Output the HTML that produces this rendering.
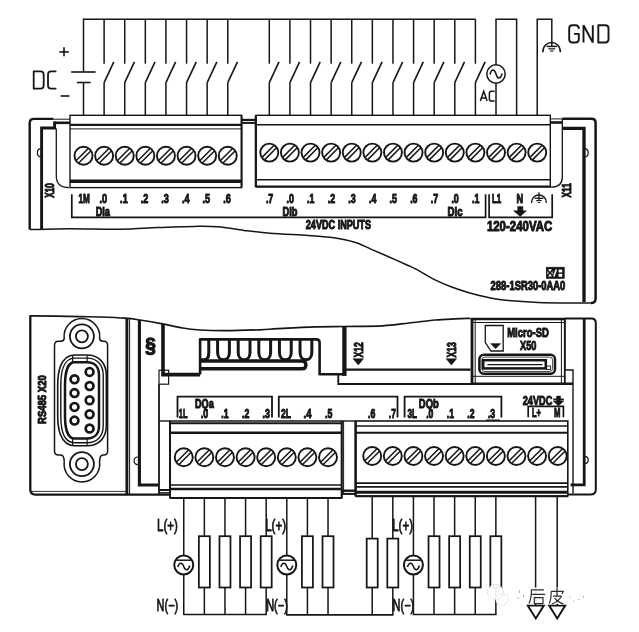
<!DOCTYPE html>
<html><head><meta charset="utf-8"><title>PLC wiring diagram</title>
<style>
html,body{margin:0;padding:0;background:#fff;}
body{width:639px;height:632px;overflow:hidden;font-family:"Liberation Sans",sans-serif;}
svg{display:block;will-change:transform;}
svg text{font-family:"Liberation Sans",sans-serif;}
</style></head><body>
<svg width="639" height="632" viewBox="0 0 639 632">
<rect x="0" y="0" width="639" height="632" fill="#ffffff"/>
<line x1="83.50" y1="19.20" x2="475.40" y2="19.20" stroke="#161616" stroke-width="1.5" stroke-linecap="butt"/>
<line x1="83.50" y1="18.55" x2="83.50" y2="72.00" stroke="#161616" stroke-width="1.5" stroke-linecap="butt"/>
<line x1="71.20" y1="72.00" x2="95.60" y2="72.00" stroke="#161616" stroke-width="1.6" stroke-linecap="butt"/>
<line x1="76.90" y1="82.50" x2="90.60" y2="82.50" stroke="#161616" stroke-width="1.6" stroke-linecap="butt"/>
<line x1="83.50" y1="82.50" x2="83.50" y2="115.30" stroke="#161616" stroke-width="1.5" stroke-linecap="butt"/>
<line x1="104.11" y1="19.20" x2="104.11" y2="63.70" stroke="#161616" stroke-width="1.5" stroke-linecap="butt"/>
<line x1="113.81" y1="61.90" x2="104.11" y2="82.60" stroke="#161616" stroke-width="1.6" stroke-linecap="butt"/>
<line x1="104.11" y1="82.40" x2="104.11" y2="115.30" stroke="#161616" stroke-width="1.5" stroke-linecap="butt"/>
<line x1="124.72" y1="19.20" x2="124.72" y2="63.70" stroke="#161616" stroke-width="1.5" stroke-linecap="butt"/>
<line x1="134.42" y1="61.90" x2="124.72" y2="82.60" stroke="#161616" stroke-width="1.6" stroke-linecap="butt"/>
<line x1="124.72" y1="82.40" x2="124.72" y2="115.30" stroke="#161616" stroke-width="1.5" stroke-linecap="butt"/>
<line x1="145.33" y1="19.20" x2="145.33" y2="63.70" stroke="#161616" stroke-width="1.5" stroke-linecap="butt"/>
<line x1="155.03" y1="61.90" x2="145.33" y2="82.60" stroke="#161616" stroke-width="1.6" stroke-linecap="butt"/>
<line x1="145.33" y1="82.40" x2="145.33" y2="115.30" stroke="#161616" stroke-width="1.5" stroke-linecap="butt"/>
<line x1="165.94" y1="19.20" x2="165.94" y2="63.70" stroke="#161616" stroke-width="1.5" stroke-linecap="butt"/>
<line x1="175.64" y1="61.90" x2="165.94" y2="82.60" stroke="#161616" stroke-width="1.6" stroke-linecap="butt"/>
<line x1="165.94" y1="82.40" x2="165.94" y2="115.30" stroke="#161616" stroke-width="1.5" stroke-linecap="butt"/>
<line x1="186.55" y1="19.20" x2="186.55" y2="63.70" stroke="#161616" stroke-width="1.5" stroke-linecap="butt"/>
<line x1="196.25" y1="61.90" x2="186.55" y2="82.60" stroke="#161616" stroke-width="1.6" stroke-linecap="butt"/>
<line x1="186.55" y1="82.40" x2="186.55" y2="115.30" stroke="#161616" stroke-width="1.5" stroke-linecap="butt"/>
<line x1="207.16" y1="19.20" x2="207.16" y2="63.70" stroke="#161616" stroke-width="1.5" stroke-linecap="butt"/>
<line x1="216.86" y1="61.90" x2="207.16" y2="82.60" stroke="#161616" stroke-width="1.6" stroke-linecap="butt"/>
<line x1="207.16" y1="82.40" x2="207.16" y2="115.30" stroke="#161616" stroke-width="1.5" stroke-linecap="butt"/>
<line x1="227.77" y1="19.20" x2="227.77" y2="63.70" stroke="#161616" stroke-width="1.5" stroke-linecap="butt"/>
<line x1="237.47" y1="61.90" x2="227.77" y2="82.60" stroke="#161616" stroke-width="1.6" stroke-linecap="butt"/>
<line x1="227.77" y1="82.40" x2="227.77" y2="115.30" stroke="#161616" stroke-width="1.5" stroke-linecap="butt"/>
<line x1="269.30" y1="19.20" x2="269.30" y2="63.70" stroke="#161616" stroke-width="1.5" stroke-linecap="butt"/>
<line x1="279.00" y1="61.90" x2="269.30" y2="82.60" stroke="#161616" stroke-width="1.6" stroke-linecap="butt"/>
<line x1="269.30" y1="82.40" x2="269.30" y2="115.30" stroke="#161616" stroke-width="1.5" stroke-linecap="butt"/>
<line x1="289.91" y1="19.20" x2="289.91" y2="63.70" stroke="#161616" stroke-width="1.5" stroke-linecap="butt"/>
<line x1="299.61" y1="61.90" x2="289.91" y2="82.60" stroke="#161616" stroke-width="1.6" stroke-linecap="butt"/>
<line x1="289.91" y1="82.40" x2="289.91" y2="115.30" stroke="#161616" stroke-width="1.5" stroke-linecap="butt"/>
<line x1="310.52" y1="19.20" x2="310.52" y2="63.70" stroke="#161616" stroke-width="1.5" stroke-linecap="butt"/>
<line x1="320.22" y1="61.90" x2="310.52" y2="82.60" stroke="#161616" stroke-width="1.6" stroke-linecap="butt"/>
<line x1="310.52" y1="82.40" x2="310.52" y2="115.30" stroke="#161616" stroke-width="1.5" stroke-linecap="butt"/>
<line x1="331.13" y1="19.20" x2="331.13" y2="63.70" stroke="#161616" stroke-width="1.5" stroke-linecap="butt"/>
<line x1="340.83" y1="61.90" x2="331.13" y2="82.60" stroke="#161616" stroke-width="1.6" stroke-linecap="butt"/>
<line x1="331.13" y1="82.40" x2="331.13" y2="115.30" stroke="#161616" stroke-width="1.5" stroke-linecap="butt"/>
<line x1="351.74" y1="19.20" x2="351.74" y2="63.70" stroke="#161616" stroke-width="1.5" stroke-linecap="butt"/>
<line x1="361.44" y1="61.90" x2="351.74" y2="82.60" stroke="#161616" stroke-width="1.6" stroke-linecap="butt"/>
<line x1="351.74" y1="82.40" x2="351.74" y2="115.30" stroke="#161616" stroke-width="1.5" stroke-linecap="butt"/>
<line x1="372.35" y1="19.20" x2="372.35" y2="63.70" stroke="#161616" stroke-width="1.5" stroke-linecap="butt"/>
<line x1="382.05" y1="61.90" x2="372.35" y2="82.60" stroke="#161616" stroke-width="1.6" stroke-linecap="butt"/>
<line x1="372.35" y1="82.40" x2="372.35" y2="115.30" stroke="#161616" stroke-width="1.5" stroke-linecap="butt"/>
<line x1="392.96" y1="19.20" x2="392.96" y2="63.70" stroke="#161616" stroke-width="1.5" stroke-linecap="butt"/>
<line x1="402.66" y1="61.90" x2="392.96" y2="82.60" stroke="#161616" stroke-width="1.6" stroke-linecap="butt"/>
<line x1="392.96" y1="82.40" x2="392.96" y2="115.30" stroke="#161616" stroke-width="1.5" stroke-linecap="butt"/>
<line x1="413.57" y1="19.20" x2="413.57" y2="63.70" stroke="#161616" stroke-width="1.5" stroke-linecap="butt"/>
<line x1="423.27" y1="61.90" x2="413.57" y2="82.60" stroke="#161616" stroke-width="1.6" stroke-linecap="butt"/>
<line x1="413.57" y1="82.40" x2="413.57" y2="115.30" stroke="#161616" stroke-width="1.5" stroke-linecap="butt"/>
<line x1="434.18" y1="19.20" x2="434.18" y2="63.70" stroke="#161616" stroke-width="1.5" stroke-linecap="butt"/>
<line x1="443.88" y1="61.90" x2="434.18" y2="82.60" stroke="#161616" stroke-width="1.6" stroke-linecap="butt"/>
<line x1="434.18" y1="82.40" x2="434.18" y2="115.30" stroke="#161616" stroke-width="1.5" stroke-linecap="butt"/>
<line x1="454.79" y1="19.20" x2="454.79" y2="63.70" stroke="#161616" stroke-width="1.5" stroke-linecap="butt"/>
<line x1="464.49" y1="61.90" x2="454.79" y2="82.60" stroke="#161616" stroke-width="1.6" stroke-linecap="butt"/>
<line x1="454.79" y1="82.40" x2="454.79" y2="115.30" stroke="#161616" stroke-width="1.5" stroke-linecap="butt"/>
<line x1="475.40" y1="19.20" x2="475.40" y2="63.70" stroke="#161616" stroke-width="1.5" stroke-linecap="butt"/>
<line x1="485.10" y1="61.90" x2="475.40" y2="82.60" stroke="#161616" stroke-width="1.6" stroke-linecap="butt"/>
<line x1="475.40" y1="82.40" x2="475.40" y2="115.30" stroke="#161616" stroke-width="1.5" stroke-linecap="butt"/>
<path d="M496.01 115.3 V19.2 H516.62 V115.3" stroke="#161616" stroke-width="1.5" fill="none" stroke-linejoin="miter" stroke-linecap="butt"/>
<circle cx="496.01" cy="74.00" r="9.20" stroke="#161616" stroke-width="1.5" fill="#fff"/>
<path d="M490.01 74.5 C491.51 68.5 494.51 68.5 496.01 74 S500.51 79.5 502.01 73.5" stroke="#161616" stroke-width="1.5" fill="none" stroke-linejoin="round" stroke-linecap="butt"/>
<path d="M537.23 115.3 V19.2 H551.8 V46.5" stroke="#161616" stroke-width="1.5" fill="none" stroke-linejoin="miter" stroke-linecap="butt"/>
<path d="M542.8 52.2 C542.8 39.4 560.4 39.4 560.4 52.2" stroke="#161616" stroke-width="1.5" fill="none" stroke-linejoin="round" stroke-linecap="butt"/>
<line x1="546.50" y1="46.40" x2="557.00" y2="46.40" stroke="#161616" stroke-width="1.5" stroke-linecap="butt"/>
<line x1="548.30" y1="48.80" x2="555.20" y2="48.80" stroke="#161616" stroke-width="1.2" stroke-linecap="butt"/>
<line x1="550.00" y1="51.00" x2="553.50" y2="51.00" stroke="#161616" stroke-width="1.1" stroke-linecap="butt"/>
<path d="M33.7 71.4 H40.5 Q43.7 71.4 43.7 74.60000000000001 V85.5 Q43.7 88.7 40.5 88.7 H33.7 Z" stroke="#161616" stroke-width="1.8" fill="none" stroke-linejoin="round" stroke-linecap="butt"/>
<path d="M56.4 71.4 H51.2 Q48 71.4 48 74.60000000000001 V85.5 Q48 88.7 51.2 88.7 H56.4" stroke="#161616" stroke-width="1.8" fill="none" stroke-linejoin="round" stroke-linecap="butt"/>
<line x1="59.40" y1="51.90" x2="68.80" y2="51.90" stroke="#161616" stroke-width="1.6" stroke-linecap="butt"/>
<line x1="64.00" y1="47.20" x2="64.00" y2="56.30" stroke="#161616" stroke-width="1.6" stroke-linecap="butt"/>
<line x1="60.60" y1="96.00" x2="69.40" y2="96.00" stroke="#161616" stroke-width="1.6" stroke-linecap="butt"/>
<path d="M578.8000000000001 28.9 Q578.8000000000001 25.2 575.6 25.2 H572.4000000000001 Q569.2 25.2 569.2 28.4 V39.3 Q569.2 42.5 572.4000000000001 42.5 H575.6 Q578.8000000000001 42.5 578.8000000000001 39.3 V33.85 H574.0" stroke="#161616" stroke-width="1.9" fill="none" stroke-linejoin="round" stroke-linecap="butt"/>
<path d="M583.5 42.5 V25.2 L592.8 42.5 V25.2" stroke="#161616" stroke-width="1.9" fill="none" stroke-linejoin="miter" stroke-linecap="butt"/>
<path d="M598.3 25.2 H605.3 Q608.5 25.2 608.5 28.4 V39.3 Q608.5 42.5 605.3 42.5 H598.3 Z" stroke="#161616" stroke-width="1.9" fill="none" stroke-linejoin="round" stroke-linecap="butt"/>
<path d="M480.3 101.10000000000001 L483.7 91.2 L487.1 101.10000000000001 M481.524 97.932 H485.87600000000003" stroke="#161616" stroke-width="1.5" fill="none" stroke-linejoin="miter" stroke-linecap="butt"/>
<path d="M494.59999999999997 91.2 H491.47999999999996 Q489.4 91.2 489.4 93.28 V99.02000000000001 Q489.4 101.10000000000001 491.47999999999996 101.10000000000001 H494.59999999999997" stroke="#161616" stroke-width="1.5" fill="none" stroke-linejoin="round" stroke-linecap="butt"/>
<path d="M53.5 118.9 H34 Q29.7 118.9 29.7 123 V229.4" stroke="#161616" stroke-width="2.4" fill="none" stroke-linejoin="round" stroke-linecap="butt"/>
<line x1="53.50" y1="119.20" x2="70.00" y2="119.20" stroke="#161616" stroke-width="1.0" stroke-linecap="butt"/>
<line x1="54.00" y1="122.80" x2="70.00" y2="122.80" stroke="#161616" stroke-width="2.6" stroke-linecap="butt"/>
<path d="M54.6 121.6 V128 H41.6 V229" stroke="#161616" stroke-width="2.9" fill="none" stroke-linejoin="miter" stroke-linecap="butt"/>
<path d="M56.3 128.6 V176 Q56.3 187.6 69 187.6" stroke="#161616" stroke-width="1.3" fill="none" stroke-linejoin="round" stroke-linecap="butt"/>
<path d="M41.4 148.7 C36 148.7 36 157 41.4 157" stroke="#161616" stroke-width="1.2" fill="none" stroke-linejoin="round" stroke-linecap="butt"/>
<path d="M562.3 118.8 H591.5 Q595.6 118.8 595.6 123 V298.5 Q595.6 303 591 303" stroke="#161616" stroke-width="2.5" fill="none" stroke-linejoin="round" stroke-linecap="butt"/>
<line x1="550.30" y1="118.90" x2="562.30" y2="118.90" stroke="#161616" stroke-width="1.0" stroke-linecap="butt"/>
<path d="M550.3 122.5 H562.3" stroke="#161616" stroke-width="2.6" fill="none" stroke-linejoin="round" stroke-linecap="butt"/>
<path d="M562.5 128.3 H584 V302" stroke="#161616" stroke-width="3.3" fill="none" stroke-linejoin="miter" stroke-linecap="butt"/>
<path d="M562.3 118.8 V177 Q562.3 187.2 551 187.2" stroke="#161616" stroke-width="1.3" fill="none" stroke-linejoin="round" stroke-linecap="butt"/>
<path d="M584.2 148.6 C589.6 148.6 589.6 157 584.2 157" stroke="#161616" stroke-width="1.2" fill="none" stroke-linejoin="round" stroke-linecap="butt"/>
<path d="M29.8 229.6 C36.33 229.45 53.97 228.77 69.00 228.70 C84.03 228.63 105.23 229.38 120.00 229.20 C134.77 229.02 145.10 228.07 157.60 227.60 C170.10 227.13 184.93 226.53 195.00 226.40 C205.07 226.27 209.83 226.13 218.00 226.80 C226.17 227.47 235.33 229.33 244.00 230.40 C252.67 231.47 259.33 232.37 270.00 233.20 C280.67 234.03 298.00 234.73 308.00 235.40 C318.00 236.07 323.83 236.47 330.00 237.20 C336.17 237.93 340.33 238.80 345.00 239.80 C349.67 240.80 353.50 241.57 358.00 243.20 C362.50 244.83 366.73 247.27 372.00 249.60 C377.27 251.93 383.77 254.63 389.60 257.20 C395.43 259.77 402.43 262.93 407.00 265.00 C411.57 267.07 412.42 267.17 417.00 269.60 C421.58 272.03 428.72 276.70 434.50 279.60 C440.28 282.50 445.95 284.82 451.70 287.00 C457.45 289.18 463.28 291.03 469.00 292.70 C474.72 294.37 480.33 295.78 486.00 297.00 C491.67 298.22 494.33 299.10 503.00 300.00 C511.67 300.90 525.33 301.90 538.00 302.40 C550.67 302.90 570.00 302.90 579.00 303.00 C588.00 303.10 589.83 303.00 592.00 303.00" stroke="#161616" stroke-width="1.5" fill="none" stroke-linejoin="round" stroke-linecap="butt"/>
<rect x="70.00" y="115.30" width="171.50" height="72.30" rx="0" stroke="#161616" stroke-width="1.4" fill="#fff"/>
<line x1="70.00" y1="124.90" x2="241.50" y2="124.90" stroke="#161616" stroke-width="2.4" stroke-linecap="butt"/>
<line x1="70.00" y1="128.90" x2="241.50" y2="128.90" stroke="#161616" stroke-width="1.0" stroke-linecap="butt"/>
<line x1="70.00" y1="181.20" x2="241.50" y2="181.20" stroke="#161616" stroke-width="3.4" stroke-linecap="butt"/>
<line x1="241.50" y1="119.90" x2="256.00" y2="119.90" stroke="#161616" stroke-width="2.2" stroke-linecap="butt"/>
<line x1="241.50" y1="122.90" x2="256.00" y2="122.90" stroke="#161616" stroke-width="2.0" stroke-linecap="butt"/>
<rect x="256.00" y="115.30" width="294.30" height="71.60" rx="0" stroke="#161616" stroke-width="1.4" fill="#fff"/>
<line x1="256.00" y1="124.80" x2="550.30" y2="124.80" stroke="#161616" stroke-width="1.6" stroke-linecap="butt"/>
<line x1="255.80" y1="115.30" x2="255.80" y2="187.00" stroke="#161616" stroke-width="2.2" stroke-linecap="butt"/>
<line x1="241.60" y1="115.30" x2="241.60" y2="187.60" stroke="#161616" stroke-width="1.9" stroke-linecap="butt"/>
<line x1="256.00" y1="179.80" x2="550.30" y2="179.80" stroke="#161616" stroke-width="1.6" stroke-linecap="butt"/>
<line x1="256.00" y1="186.60" x2="550.30" y2="186.60" stroke="#161616" stroke-width="2.0" stroke-linecap="butt"/>
<circle cx="83.50" cy="155.80" r="9.00" stroke="#161616" stroke-width="1.9" fill="#fff"/>
<line x1="76.23" y1="160.59" x2="88.29" y2="148.53" stroke="#161616" stroke-width="1.5" stroke-linecap="butt"/>
<line x1="78.71" y1="163.07" x2="90.77" y2="151.01" stroke="#161616" stroke-width="1.5" stroke-linecap="butt"/>
<circle cx="104.11" cy="155.80" r="9.00" stroke="#161616" stroke-width="1.9" fill="#fff"/>
<line x1="96.84" y1="160.59" x2="108.90" y2="148.53" stroke="#161616" stroke-width="1.5" stroke-linecap="butt"/>
<line x1="99.32" y1="163.07" x2="111.38" y2="151.01" stroke="#161616" stroke-width="1.5" stroke-linecap="butt"/>
<circle cx="124.72" cy="155.80" r="9.00" stroke="#161616" stroke-width="1.9" fill="#fff"/>
<line x1="117.45" y1="160.59" x2="129.51" y2="148.53" stroke="#161616" stroke-width="1.5" stroke-linecap="butt"/>
<line x1="119.93" y1="163.07" x2="131.99" y2="151.01" stroke="#161616" stroke-width="1.5" stroke-linecap="butt"/>
<circle cx="145.33" cy="155.80" r="9.00" stroke="#161616" stroke-width="1.9" fill="#fff"/>
<line x1="138.06" y1="160.59" x2="150.12" y2="148.53" stroke="#161616" stroke-width="1.5" stroke-linecap="butt"/>
<line x1="140.54" y1="163.07" x2="152.60" y2="151.01" stroke="#161616" stroke-width="1.5" stroke-linecap="butt"/>
<circle cx="165.94" cy="155.80" r="9.00" stroke="#161616" stroke-width="1.9" fill="#fff"/>
<line x1="158.67" y1="160.59" x2="170.73" y2="148.53" stroke="#161616" stroke-width="1.5" stroke-linecap="butt"/>
<line x1="161.15" y1="163.07" x2="173.21" y2="151.01" stroke="#161616" stroke-width="1.5" stroke-linecap="butt"/>
<circle cx="186.55" cy="155.80" r="9.00" stroke="#161616" stroke-width="1.9" fill="#fff"/>
<line x1="179.28" y1="160.59" x2="191.34" y2="148.53" stroke="#161616" stroke-width="1.5" stroke-linecap="butt"/>
<line x1="181.76" y1="163.07" x2="193.82" y2="151.01" stroke="#161616" stroke-width="1.5" stroke-linecap="butt"/>
<circle cx="207.16" cy="155.80" r="9.00" stroke="#161616" stroke-width="1.9" fill="#fff"/>
<line x1="199.89" y1="160.59" x2="211.95" y2="148.53" stroke="#161616" stroke-width="1.5" stroke-linecap="butt"/>
<line x1="202.37" y1="163.07" x2="214.43" y2="151.01" stroke="#161616" stroke-width="1.5" stroke-linecap="butt"/>
<circle cx="227.77" cy="155.80" r="9.00" stroke="#161616" stroke-width="1.9" fill="#fff"/>
<line x1="220.50" y1="160.59" x2="232.56" y2="148.53" stroke="#161616" stroke-width="1.5" stroke-linecap="butt"/>
<line x1="222.98" y1="163.07" x2="235.04" y2="151.01" stroke="#161616" stroke-width="1.5" stroke-linecap="butt"/>
<circle cx="269.30" cy="152.60" r="9.00" stroke="#161616" stroke-width="1.9" fill="#fff"/>
<line x1="262.03" y1="157.39" x2="274.09" y2="145.33" stroke="#161616" stroke-width="1.5" stroke-linecap="butt"/>
<line x1="264.51" y1="159.87" x2="276.57" y2="147.81" stroke="#161616" stroke-width="1.5" stroke-linecap="butt"/>
<circle cx="289.91" cy="152.60" r="9.00" stroke="#161616" stroke-width="1.9" fill="#fff"/>
<line x1="282.64" y1="157.39" x2="294.70" y2="145.33" stroke="#161616" stroke-width="1.5" stroke-linecap="butt"/>
<line x1="285.12" y1="159.87" x2="297.18" y2="147.81" stroke="#161616" stroke-width="1.5" stroke-linecap="butt"/>
<circle cx="310.52" cy="152.60" r="9.00" stroke="#161616" stroke-width="1.9" fill="#fff"/>
<line x1="303.25" y1="157.39" x2="315.31" y2="145.33" stroke="#161616" stroke-width="1.5" stroke-linecap="butt"/>
<line x1="305.73" y1="159.87" x2="317.79" y2="147.81" stroke="#161616" stroke-width="1.5" stroke-linecap="butt"/>
<circle cx="331.13" cy="152.60" r="9.00" stroke="#161616" stroke-width="1.9" fill="#fff"/>
<line x1="323.86" y1="157.39" x2="335.92" y2="145.33" stroke="#161616" stroke-width="1.5" stroke-linecap="butt"/>
<line x1="326.34" y1="159.87" x2="338.40" y2="147.81" stroke="#161616" stroke-width="1.5" stroke-linecap="butt"/>
<circle cx="351.74" cy="152.60" r="9.00" stroke="#161616" stroke-width="1.9" fill="#fff"/>
<line x1="344.47" y1="157.39" x2="356.53" y2="145.33" stroke="#161616" stroke-width="1.5" stroke-linecap="butt"/>
<line x1="346.95" y1="159.87" x2="359.01" y2="147.81" stroke="#161616" stroke-width="1.5" stroke-linecap="butt"/>
<circle cx="372.35" cy="152.60" r="9.00" stroke="#161616" stroke-width="1.9" fill="#fff"/>
<line x1="365.08" y1="157.39" x2="377.14" y2="145.33" stroke="#161616" stroke-width="1.5" stroke-linecap="butt"/>
<line x1="367.56" y1="159.87" x2="379.62" y2="147.81" stroke="#161616" stroke-width="1.5" stroke-linecap="butt"/>
<circle cx="392.96" cy="152.60" r="9.00" stroke="#161616" stroke-width="1.9" fill="#fff"/>
<line x1="385.69" y1="157.39" x2="397.75" y2="145.33" stroke="#161616" stroke-width="1.5" stroke-linecap="butt"/>
<line x1="388.17" y1="159.87" x2="400.23" y2="147.81" stroke="#161616" stroke-width="1.5" stroke-linecap="butt"/>
<circle cx="413.57" cy="152.60" r="9.00" stroke="#161616" stroke-width="1.9" fill="#fff"/>
<line x1="406.30" y1="157.39" x2="418.36" y2="145.33" stroke="#161616" stroke-width="1.5" stroke-linecap="butt"/>
<line x1="408.78" y1="159.87" x2="420.84" y2="147.81" stroke="#161616" stroke-width="1.5" stroke-linecap="butt"/>
<circle cx="434.18" cy="152.60" r="9.00" stroke="#161616" stroke-width="1.9" fill="#fff"/>
<line x1="426.91" y1="157.39" x2="438.97" y2="145.33" stroke="#161616" stroke-width="1.5" stroke-linecap="butt"/>
<line x1="429.39" y1="159.87" x2="441.45" y2="147.81" stroke="#161616" stroke-width="1.5" stroke-linecap="butt"/>
<circle cx="454.79" cy="152.60" r="9.00" stroke="#161616" stroke-width="1.9" fill="#fff"/>
<line x1="447.52" y1="157.39" x2="459.58" y2="145.33" stroke="#161616" stroke-width="1.5" stroke-linecap="butt"/>
<line x1="450.00" y1="159.87" x2="462.06" y2="147.81" stroke="#161616" stroke-width="1.5" stroke-linecap="butt"/>
<circle cx="475.40" cy="152.60" r="9.00" stroke="#161616" stroke-width="1.9" fill="#fff"/>
<line x1="468.13" y1="157.39" x2="480.19" y2="145.33" stroke="#161616" stroke-width="1.5" stroke-linecap="butt"/>
<line x1="470.61" y1="159.87" x2="482.67" y2="147.81" stroke="#161616" stroke-width="1.5" stroke-linecap="butt"/>
<circle cx="496.01" cy="152.60" r="9.00" stroke="#161616" stroke-width="1.9" fill="#fff"/>
<line x1="488.74" y1="157.39" x2="500.80" y2="145.33" stroke="#161616" stroke-width="1.5" stroke-linecap="butt"/>
<line x1="491.22" y1="159.87" x2="503.28" y2="147.81" stroke="#161616" stroke-width="1.5" stroke-linecap="butt"/>
<circle cx="516.62" cy="152.60" r="9.00" stroke="#161616" stroke-width="1.9" fill="#fff"/>
<line x1="509.35" y1="157.39" x2="521.41" y2="145.33" stroke="#161616" stroke-width="1.5" stroke-linecap="butt"/>
<line x1="511.83" y1="159.87" x2="523.89" y2="147.81" stroke="#161616" stroke-width="1.5" stroke-linecap="butt"/>
<circle cx="537.23" cy="152.60" r="9.00" stroke="#161616" stroke-width="1.9" fill="#fff"/>
<line x1="529.96" y1="157.39" x2="542.02" y2="145.33" stroke="#161616" stroke-width="1.5" stroke-linecap="butt"/>
<line x1="532.44" y1="159.87" x2="544.50" y2="147.81" stroke="#161616" stroke-width="1.5" stroke-linecap="butt"/>
<text x="78.50" y="203.30" font-size="12.4" font-weight="700" text-anchor="start" fill="#161616" stroke="#161616" stroke-width="1.0" stroke-linejoin="round" textLength="11.30" lengthAdjust="spacingAndGlyphs">1M</text>
<text x="99.51" y="203.30" font-size="12.4" font-weight="700" text-anchor="start" fill="#161616" stroke="#161616" stroke-width="1.0" stroke-linejoin="round" textLength="7.60" lengthAdjust="spacingAndGlyphs">.0</text>
<text x="120.12" y="203.30" font-size="12.4" font-weight="700" text-anchor="start" fill="#161616" stroke="#161616" stroke-width="1.0" stroke-linejoin="round" textLength="7.60" lengthAdjust="spacingAndGlyphs">.1</text>
<text x="140.73" y="203.30" font-size="12.4" font-weight="700" text-anchor="start" fill="#161616" stroke="#161616" stroke-width="1.0" stroke-linejoin="round" textLength="7.60" lengthAdjust="spacingAndGlyphs">.2</text>
<text x="161.34" y="203.30" font-size="12.4" font-weight="700" text-anchor="start" fill="#161616" stroke="#161616" stroke-width="1.0" stroke-linejoin="round" textLength="7.60" lengthAdjust="spacingAndGlyphs">.3</text>
<text x="181.95" y="203.30" font-size="12.4" font-weight="700" text-anchor="start" fill="#161616" stroke="#161616" stroke-width="1.0" stroke-linejoin="round" textLength="7.60" lengthAdjust="spacingAndGlyphs">.4</text>
<text x="202.56" y="203.30" font-size="12.4" font-weight="700" text-anchor="start" fill="#161616" stroke="#161616" stroke-width="1.0" stroke-linejoin="round" textLength="7.60" lengthAdjust="spacingAndGlyphs">.5</text>
<text x="223.17" y="203.30" font-size="12.4" font-weight="700" text-anchor="start" fill="#161616" stroke="#161616" stroke-width="1.0" stroke-linejoin="round" textLength="7.60" lengthAdjust="spacingAndGlyphs">.6</text>
<text x="265.90" y="203.30" font-size="12.4" font-weight="700" text-anchor="start" fill="#161616" stroke="#161616" stroke-width="1.0" stroke-linejoin="round" textLength="7.40" lengthAdjust="spacingAndGlyphs">.7</text>
<text x="286.51" y="203.30" font-size="12.4" font-weight="700" text-anchor="start" fill="#161616" stroke="#161616" stroke-width="1.0" stroke-linejoin="round" textLength="7.40" lengthAdjust="spacingAndGlyphs">.0</text>
<text x="307.12" y="203.30" font-size="12.4" font-weight="700" text-anchor="start" fill="#161616" stroke="#161616" stroke-width="1.0" stroke-linejoin="round" textLength="7.40" lengthAdjust="spacingAndGlyphs">.1</text>
<text x="327.73" y="203.30" font-size="12.4" font-weight="700" text-anchor="start" fill="#161616" stroke="#161616" stroke-width="1.0" stroke-linejoin="round" textLength="7.40" lengthAdjust="spacingAndGlyphs">.2</text>
<text x="348.34" y="203.30" font-size="12.4" font-weight="700" text-anchor="start" fill="#161616" stroke="#161616" stroke-width="1.0" stroke-linejoin="round" textLength="7.40" lengthAdjust="spacingAndGlyphs">.3</text>
<text x="368.95" y="203.30" font-size="12.4" font-weight="700" text-anchor="start" fill="#161616" stroke="#161616" stroke-width="1.0" stroke-linejoin="round" textLength="7.40" lengthAdjust="spacingAndGlyphs">.4</text>
<text x="389.56" y="203.30" font-size="12.4" font-weight="700" text-anchor="start" fill="#161616" stroke="#161616" stroke-width="1.0" stroke-linejoin="round" textLength="7.40" lengthAdjust="spacingAndGlyphs">.5</text>
<text x="410.17" y="203.30" font-size="12.4" font-weight="700" text-anchor="start" fill="#161616" stroke="#161616" stroke-width="1.0" stroke-linejoin="round" textLength="7.40" lengthAdjust="spacingAndGlyphs">.6</text>
<text x="430.78" y="203.30" font-size="12.4" font-weight="700" text-anchor="start" fill="#161616" stroke="#161616" stroke-width="1.0" stroke-linejoin="round" textLength="7.40" lengthAdjust="spacingAndGlyphs">.7</text>
<text x="451.39" y="203.30" font-size="12.4" font-weight="700" text-anchor="start" fill="#161616" stroke="#161616" stroke-width="1.0" stroke-linejoin="round" textLength="7.40" lengthAdjust="spacingAndGlyphs">.0</text>
<text x="472.00" y="203.30" font-size="12.4" font-weight="700" text-anchor="start" fill="#161616" stroke="#161616" stroke-width="1.0" stroke-linejoin="round" textLength="7.40" lengthAdjust="spacingAndGlyphs">.1</text>
<text x="492.00" y="203.30" font-size="12.4" font-weight="700" text-anchor="start" fill="#161616" stroke="#161616" stroke-width="1.0" stroke-linejoin="round" textLength="9.30" lengthAdjust="spacingAndGlyphs">L1</text>
<text x="516.60" y="203.30" font-size="12.4" font-weight="700" text-anchor="start" fill="#161616" stroke="#161616" stroke-width="1.0" stroke-linejoin="round" textLength="6.60" lengthAdjust="spacingAndGlyphs">N</text>
<path d="M531.5 203 C531.5 192.4 546.4 192.4 546.4 203" stroke="#161616" stroke-width="1.4" fill="none" stroke-linejoin="round" stroke-linecap="butt"/>
<line x1="539.00" y1="192.30" x2="539.00" y2="200.80" stroke="#161616" stroke-width="1.3" stroke-linecap="butt"/>
<line x1="534.50" y1="198.30" x2="543.50" y2="198.30" stroke="#161616" stroke-width="1.3" stroke-linecap="butt"/>
<line x1="536.20" y1="200.60" x2="541.80" y2="200.60" stroke="#161616" stroke-width="1.1" stroke-linecap="butt"/>
<line x1="537.80" y1="202.60" x2="540.20" y2="202.60" stroke="#161616" stroke-width="1.0" stroke-linecap="butt"/>
<path d="M517.7 206.5 H522.9 V210.8 H526.4 L520.2 216.6 L513.6 210.8 H517.7 Z" stroke="#161616" stroke-width="0.5" fill="#161616" stroke-linejoin="round" stroke-linecap="butt"/>
<text x="95.70" y="216.20" font-size="12.4" font-weight="700" text-anchor="start" fill="#161616" stroke="#161616" stroke-width="1.0" stroke-linejoin="round" textLength="14.30" lengthAdjust="spacingAndGlyphs">DIa</text>
<text x="282.50" y="216.20" font-size="12.4" font-weight="700" text-anchor="start" fill="#161616" stroke="#161616" stroke-width="1.0" stroke-linejoin="round" textLength="15.00" lengthAdjust="spacingAndGlyphs">DIb</text>
<text x="447.50" y="216.20" font-size="12.4" font-weight="700" text-anchor="start" fill="#161616" stroke="#161616" stroke-width="1.0" stroke-linejoin="round" textLength="15.00" lengthAdjust="spacingAndGlyphs">DIc</text>
<path d="M71.8 194.3 V217.3 H485.6 V194.3" stroke="#161616" stroke-width="1.7" fill="none" stroke-linejoin="miter" stroke-linecap="butt"/>
<path d="M489.1 194.3 V217.3 H552.2 V194.3" stroke="#161616" stroke-width="1.7" fill="none" stroke-linejoin="miter" stroke-linecap="butt"/>
<text x="305.80" y="229.10" font-size="12.1" font-weight="700" text-anchor="start" fill="#161616" stroke="#161616" stroke-width="1.0" stroke-linejoin="round" textLength="65.20" lengthAdjust="spacingAndGlyphs">24VDC INPUTS</text>
<text x="486.90" y="231.20" font-size="14.6" font-weight="700" text-anchor="start" fill="#161616" stroke="#161616" stroke-width="1.0" stroke-linejoin="round" textLength="65.30" lengthAdjust="spacingAndGlyphs">120-240VAC</text>
<text x="490.60" y="289.70" font-size="12.1" font-weight="700" text-anchor="start" fill="#161616" stroke="#161616" stroke-width="1.0" stroke-linejoin="round" textLength="74.70" lengthAdjust="spacingAndGlyphs">288-1SR30-0AA0</text>
<rect x="546.40" y="267.30" width="17.80" height="11.00" rx="0" stroke="#161616" stroke-width="0.8" fill="#161616"/>
<path d="M548.1 269.2 H551.9 L550 272 Z M548.1 276.6 H551.9 L550 273.8 Z" fill="#fff"/>
<path d="M547.3 271 V274.8 L549.2 272.9 Z M552.8 271 V274.8 L550.9 272.9 Z" fill="#bbb"/>
<path d="M553.8 276.4 L556.3 269.4" stroke="#fff" stroke-width="1.6" fill="none" stroke-linejoin="round" stroke-linecap="butt"/>
<rect x="558.6" y="269.6" width="3.6" height="2.8" fill="#fff"/><rect x="558.6" y="273.8" width="3.6" height="3" fill="#fff"/>
<text x="54.00" y="197.80" font-size="12" font-weight="700" text-anchor="start" fill="#161616" stroke="#161616" stroke-width="1.0" stroke-linejoin="round" textLength="14.80" lengthAdjust="spacingAndGlyphs" transform="rotate(-90 54.00 197.80)">X10</text>
<text x="571.20" y="197.40" font-size="12" font-weight="700" text-anchor="start" fill="#161616" stroke="#161616" stroke-width="1.0" stroke-linejoin="round" textLength="14.20" lengthAdjust="spacingAndGlyphs" transform="rotate(-90 571.20 197.40)">X11</text>
<path d="M30.3 315.8 C38.58 315.93 68.38 316.40 80.00 316.60 C91.62 316.80 92.50 316.73 100.00 317.00 C107.50 317.27 118.33 317.70 125.00 318.20 C131.67 318.70 133.75 319.07 140.00 320.00 C146.25 320.93 155.42 322.47 162.50 323.80 C169.58 325.13 176.25 326.97 182.50 328.00 C188.75 329.03 192.92 329.55 200.00 330.00 C207.08 330.45 215.00 330.73 225.00 330.70 C235.00 330.67 251.23 330.13 260.00 329.80 C268.77 329.47 268.43 329.18 277.60 328.70 C286.77 328.22 303.77 327.27 315.00 326.90 C326.23 326.53 333.72 326.68 345.00 326.50 C356.28 326.32 372.03 326.38 382.70 325.80 C393.37 325.22 400.28 323.97 409.00 323.00 C417.72 322.03 427.33 320.68 435.00 320.00 C442.67 319.32 449.17 319.17 455.00 318.90 C460.83 318.63 467.50 318.48 470.00 318.40" stroke="#161616" stroke-width="1.7" fill="none" stroke-linejoin="round" stroke-linecap="butt"/>
<path d="M30.3 315.2 V489.5 Q30.3 494.6 35.5 494.6 H170" stroke="#161616" stroke-width="2.3" fill="none" stroke-linejoin="round" stroke-linecap="butt"/>
<line x1="31.00" y1="491.40" x2="126.00" y2="491.40" stroke="#161616" stroke-width="0.9" stroke-linecap="butt"/>
<path d="M565 318.5 H591.5 Q595.8 318.5 595.8 323 V489.5 Q595.8 494.5 590.5 494.5 H567.8" stroke="#161616" stroke-width="2.0" fill="none" stroke-linejoin="round" stroke-linecap="butt"/>
<path d="M584.2 319 V484.8 H570.6" stroke="#161616" stroke-width="2.8" fill="none" stroke-linejoin="miter" stroke-linecap="butt"/>
<path d="M584.2 456.4 C589.6 456.4 589.6 463.6 584.2 463.6" stroke="#161616" stroke-width="1.2" fill="none" stroke-linejoin="round" stroke-linecap="butt"/>
<path d="M565 318.5 V370 H573 V493.5" stroke="#161616" stroke-width="1.4" fill="none" stroke-linejoin="miter" stroke-linecap="butt"/>
<line x1="126.90" y1="318.60" x2="126.90" y2="494.00" stroke="#161616" stroke-width="2.9" stroke-linecap="butt"/>
<line x1="129.60" y1="319.00" x2="129.60" y2="494.00" stroke="#161616" stroke-width="1.0" stroke-linecap="butt"/>
<path d="M139.4 320 V485 H158.8" stroke="#161616" stroke-width="3.1" fill="none" stroke-linejoin="miter" stroke-linecap="butt"/>
<path d="M138 457 C132.8 457 132.8 464.6 138 464.6" stroke="#161616" stroke-width="1.2" fill="none" stroke-linejoin="round" stroke-linecap="butt"/>
<text x="145.2" y="352.2" font-size="19.5" font-weight="700" fill="#161616" stroke="#161616" stroke-width="1.3" textLength="10.6" lengthAdjust="spacingAndGlyphs">§</text>
<path d="M200.1 374.6 V339.4 H316.4 Q319.6 339.4 319.6 342.6 V374.3 H344.2" stroke="#161616" stroke-width="2.6" fill="none" stroke-linejoin="round" stroke-linecap="butt"/>
<rect x="159.00" y="370.20" width="9.60" height="14.00" rx="0" stroke="#161616" stroke-width="1.2" fill="#fff"/>
<line x1="159.00" y1="384.00" x2="159.00" y2="494.00" stroke="#161616" stroke-width="1.8" stroke-linecap="butt"/>
<path d="M163 323.8 V374.6 H200.1" stroke="#161616" stroke-width="3.6" fill="none" stroke-linejoin="miter" stroke-linecap="butt"/>
<path d="M208.79 339.2 V353 Q208.79 359.6 203.89 359.8 H201" stroke="#161616" stroke-width="3.0" fill="none" stroke-linejoin="round" stroke-linecap="butt"/>
<path d="M217.60 339.2 V352.5 C217.60 362.3 229.40 362.3 229.40 352.5 V339.2" stroke="#161616" stroke-width="3.0" fill="none" stroke-linejoin="round" stroke-linecap="butt"/>
<path d="M238.21 339.2 V352.5 C238.21 362.3 250.01 362.3 250.01 352.5 V339.2" stroke="#161616" stroke-width="3.0" fill="none" stroke-linejoin="round" stroke-linecap="butt"/>
<path d="M258.82 339.2 V352.5 C258.82 362.3 270.62 362.3 270.62 352.5 V339.2" stroke="#161616" stroke-width="3.0" fill="none" stroke-linejoin="round" stroke-linecap="butt"/>
<path d="M279.43 339.2 V352.5 C279.43 362.3 291.23 362.3 291.23 352.5 V339.2" stroke="#161616" stroke-width="3.0" fill="none" stroke-linejoin="round" stroke-linecap="butt"/>
<path d="M300.04 339.2 V352.5 C300.04 362.3 311.84 362.3 311.84 352.5 V339.2" stroke="#161616" stroke-width="3.0" fill="none" stroke-linejoin="round" stroke-linecap="butt"/>
<path d="M200.1 361 H302 Q305.9 361 305.9 364.9 Q305.9 368.8 302 368.8 H200.1" stroke="#161616" stroke-width="3.4" fill="none" stroke-linejoin="round" stroke-linecap="butt"/>
<line x1="344.40" y1="326.40" x2="344.40" y2="375.90" stroke="#161616" stroke-width="4.3" stroke-linecap="butt"/>
<line x1="344.20" y1="369.60" x2="470.50" y2="369.60" stroke="#161616" stroke-width="2.2" stroke-linecap="butt"/>
<path d="M338.3 374.6 V384 H573" stroke="#161616" stroke-width="1.8" fill="none" stroke-linejoin="miter" stroke-linecap="butt"/>
<text x="362.90" y="357.60" font-size="13.0" font-weight="700" text-anchor="start" fill="#161616" stroke="#161616" stroke-width="1.0" stroke-linejoin="round" textLength="15.60" lengthAdjust="spacingAndGlyphs" transform="rotate(-90 362.90 357.60)">X12</text>
<path d="M353.00 358.7 H363.50 L358.30 365 Z" stroke="#161616" stroke-width="0.5" fill="#161616" stroke-linejoin="round" stroke-linecap="butt"/>
<text x="456.00" y="357.60" font-size="13.0" font-weight="700" text-anchor="start" fill="#161616" stroke="#161616" stroke-width="1.0" stroke-linejoin="round" textLength="15.60" lengthAdjust="spacingAndGlyphs" transform="rotate(-90 456.00 357.60)">X13</text>
<path d="M446.10 358.7 H456.60 L451.40 365 Z" stroke="#161616" stroke-width="0.5" fill="#161616" stroke-linejoin="round" stroke-linecap="butt"/>
<rect x="472.00" y="318.30" width="92.80" height="64.90" rx="0" stroke="#fff" stroke-width="1.0" fill="#fff"/>
<line x1="470.60" y1="319.00" x2="565.60" y2="319.00" stroke="#161616" stroke-width="2.4" stroke-linecap="butt"/>
<line x1="472.00" y1="318.00" x2="472.00" y2="384.00" stroke="#161616" stroke-width="2.8" stroke-linecap="butt"/>
<line x1="475.20" y1="318.00" x2="475.20" y2="384.00" stroke="#161616" stroke-width="1.0" stroke-linecap="butt"/>
<line x1="561.40" y1="318.00" x2="561.40" y2="384.00" stroke="#161616" stroke-width="1.0" stroke-linecap="butt"/>
<line x1="564.80" y1="318.00" x2="564.80" y2="384.00" stroke="#161616" stroke-width="1.8" stroke-linecap="butt"/>
<line x1="472.00" y1="322.50" x2="565.00" y2="322.50" stroke="#161616" stroke-width="1.0" stroke-linecap="butt"/>
<line x1="472.00" y1="376.30" x2="565.00" y2="376.30" stroke="#161616" stroke-width="1.0" stroke-linecap="butt"/>
<line x1="472.00" y1="383.40" x2="573.00" y2="383.40" stroke="#161616" stroke-width="2.0" stroke-linecap="butt"/>
<path d="M485.3 325.5 H503.2 V351 H491 L485.3 342.5 Z" stroke="#161616" stroke-width="1.3" fill="none" stroke-linejoin="miter" stroke-linecap="butt"/>
<path d="M490.5 343.6 H500.8 L495.6 348.8 Z" stroke="#161616" stroke-width="0.4" fill="#161616" stroke-linejoin="round" stroke-linecap="butt"/>
<text x="507.20" y="336.80" font-size="13.3" font-weight="700" text-anchor="start" fill="#161616" stroke="#161616" stroke-width="1.0" stroke-linejoin="round" textLength="41.80" lengthAdjust="spacingAndGlyphs">Micro-SD</text>
<text x="520.00" y="349.60" font-size="13.3" font-weight="700" text-anchor="start" fill="#161616" stroke="#161616" stroke-width="1.0" stroke-linejoin="round" textLength="16.40" lengthAdjust="spacingAndGlyphs">X50</text>
<rect x="479.40" y="354.80" width="75.60" height="19.00" rx="4.5" stroke="#161616" stroke-width="2.5" fill="none"/>
<rect x="481.80" y="357.10" width="70.80" height="14.40" rx="3" stroke="#161616" stroke-width="0.8" fill="none"/>
<rect x="483.20" y="360.20" width="62.60" height="8.20" rx="0" stroke="#161616" stroke-width="2.5" fill="none"/>
<line x1="487.40" y1="364.60" x2="542.50" y2="364.60" stroke="#161616" stroke-width="1.4" stroke-linecap="butt"/>
<rect x="546.60" y="366.00" width="4.00" height="3.40" rx="0" stroke="#161616" stroke-width="0.9" fill="none"/>
<path d="M58.5 341.2 Q54.5 341.2 54.5 345.2 V451 Q54.5 455 58.5 455 H60.90 Q64.21 455 64.21 462.10 A17.8 17.8 0 1 0 99.59 462.10 Q99.59 455 102.90 455 H103.6 Q107.6 455 107.6 451 V345.2 Q107.6 341.2 103.6 341.2 H102.90 Q99.59 341.2 99.59 338.30 A17.8 17.8 0 1 0 64.21 338.30 Q64.21 341.2 60.90 341.2 Z" stroke="#161616" stroke-width="1.5" fill="#fff" stroke-linejoin="round" stroke-linecap="butt"/>
<circle cx="81.90" cy="336.30" r="12.00" stroke="#161616" stroke-width="1.8" fill="none"/>
<circle cx="81.90" cy="336.30" r="6.00" stroke="#161616" stroke-width="1.8" fill="none"/>
<circle cx="81.90" cy="464.10" r="12.00" stroke="#161616" stroke-width="1.8" fill="none"/>
<circle cx="81.90" cy="464.10" r="6.00" stroke="#161616" stroke-width="1.8" fill="none"/>
<path d="M65 385 C65 372 68 362.3 74.5 362.3 H87 C94.5 362.3 99 367 99 375 V426 C99 434 94.5 438.5 87 438.5 H74.5 C68 438.5 65 429 65 416 Z" stroke="#161616" stroke-width="16.2" fill="none" stroke-linejoin="round" stroke-linecap="butt"/>
<path d="M65 385 C65 372 68 362.3 74.5 362.3 H87 C94.5 362.3 99 367 99 375 V426 C99 434 94.5 438.5 87 438.5 H74.5 C68 438.5 65 429 65 416 Z" stroke="#fff" stroke-width="13.0" fill="none" stroke-linejoin="round" stroke-linecap="butt"/>
<path d="M65 385 C65 372 68 362.3 74.5 362.3 H87 C94.5 362.3 99 367 99 375 V426 C99 434 94.5 438.5 87 438.5 H74.5 C68 438.5 65 429 65 416 Z" stroke="#161616" stroke-width="9.8" fill="none" stroke-linejoin="round" stroke-linecap="butt"/>
<path d="M65 385 C65 372 68 362.3 74.5 362.3 H87 C94.5 362.3 99 367 99 375 V426 C99 434 94.5 438.5 87 438.5 H74.5 C68 438.5 65 429 65 416 Z" stroke="#fff" stroke-width="7.0" fill="none" stroke-linejoin="round" stroke-linecap="butt"/>
<path d="M65 385 C65 372 68 362.3 74.5 362.3 H87 C94.5 362.3 99 367 99 375 V426 C99 434 94.5 438.5 87 438.5 H74.5 C68 438.5 65 429 65 416 Z" stroke="#161616" stroke-width="2.5" fill="#fff" stroke-linejoin="round" stroke-linecap="butt"/>
<line x1="72.60" y1="355.30" x2="72.60" y2="362.30" stroke="#161616" stroke-width="1.2" stroke-linecap="butt"/>
<line x1="87.10" y1="355.30" x2="87.10" y2="362.30" stroke="#161616" stroke-width="1.2" stroke-linecap="butt"/>
<line x1="72.60" y1="438.50" x2="72.60" y2="445.90" stroke="#161616" stroke-width="1.2" stroke-linecap="butt"/>
<line x1="87.10" y1="438.50" x2="87.10" y2="445.90" stroke="#161616" stroke-width="1.2" stroke-linecap="butt"/>
<circle cx="74.50" cy="379.30" r="3.90" stroke="#161616" stroke-width="2.7" fill="none"/>
<circle cx="74.50" cy="393.10" r="3.90" stroke="#161616" stroke-width="2.7" fill="none"/>
<circle cx="74.50" cy="406.90" r="3.90" stroke="#161616" stroke-width="2.7" fill="none"/>
<circle cx="74.50" cy="420.60" r="3.90" stroke="#161616" stroke-width="2.7" fill="none"/>
<circle cx="89.60" cy="371.90" r="3.90" stroke="#161616" stroke-width="2.7" fill="none"/>
<circle cx="89.60" cy="386.00" r="3.90" stroke="#161616" stroke-width="2.7" fill="none"/>
<circle cx="89.60" cy="400.20" r="3.90" stroke="#161616" stroke-width="2.7" fill="none"/>
<circle cx="89.60" cy="414.30" r="3.90" stroke="#161616" stroke-width="2.7" fill="none"/>
<circle cx="89.60" cy="428.50" r="3.90" stroke="#161616" stroke-width="2.7" fill="none"/>
<text x="45.90" y="424.00" font-size="11.5" font-weight="700" text-anchor="start" fill="#161616" stroke="#161616" stroke-width="1.0" stroke-linejoin="round" textLength="48.80" lengthAdjust="spacingAndGlyphs" transform="rotate(-90 45.90 424.00)">RS485 X20</text>
<path d="M177.5 417.5 V396.6 H272 V417.5" stroke="#161616" stroke-width="1.8" fill="none" stroke-linejoin="miter" stroke-linecap="butt"/>
<path d="M278.8 417.5 V396.6 H397.5 V417.5" stroke="#161616" stroke-width="1.8" fill="none" stroke-linejoin="miter" stroke-linecap="butt"/>
<path d="M404.6 417.5 V396.6 H501.4 V417.5" stroke="#161616" stroke-width="1.8" fill="none" stroke-linejoin="miter" stroke-linecap="butt"/>
<text x="178.80" y="417.60" font-size="12.4" font-weight="700" text-anchor="start" fill="#161616" stroke="#161616" stroke-width="1.0" stroke-linejoin="round" textLength="8.70" lengthAdjust="spacingAndGlyphs">1L</text>
<text x="200.76" y="417.60" font-size="12.4" font-weight="700" text-anchor="start" fill="#161616" stroke="#161616" stroke-width="1.0" stroke-linejoin="round" textLength="7.30" lengthAdjust="spacingAndGlyphs">.0</text>
<text x="221.37" y="417.60" font-size="12.4" font-weight="700" text-anchor="start" fill="#161616" stroke="#161616" stroke-width="1.0" stroke-linejoin="round" textLength="7.30" lengthAdjust="spacingAndGlyphs">.1</text>
<text x="241.98" y="417.60" font-size="12.4" font-weight="700" text-anchor="start" fill="#161616" stroke="#161616" stroke-width="1.0" stroke-linejoin="round" textLength="7.30" lengthAdjust="spacingAndGlyphs">.2</text>
<text x="262.59" y="417.60" font-size="12.4" font-weight="700" text-anchor="start" fill="#161616" stroke="#161616" stroke-width="1.0" stroke-linejoin="round" textLength="7.30" lengthAdjust="spacingAndGlyphs">.3</text>
<text x="281.00" y="417.60" font-size="12.4" font-weight="700" text-anchor="start" fill="#161616" stroke="#161616" stroke-width="1.0" stroke-linejoin="round" textLength="10.00" lengthAdjust="spacingAndGlyphs">2L</text>
<text x="303.60" y="417.60" font-size="12.4" font-weight="700" text-anchor="start" fill="#161616" stroke="#161616" stroke-width="1.0" stroke-linejoin="round" textLength="8.00" lengthAdjust="spacingAndGlyphs">.4</text>
<text x="325.00" y="417.60" font-size="12.4" font-weight="700" text-anchor="start" fill="#161616" stroke="#161616" stroke-width="1.0" stroke-linejoin="round" textLength="7.30" lengthAdjust="spacingAndGlyphs">.5</text>
<text x="368.00" y="417.60" font-size="12.4" font-weight="700" text-anchor="start" fill="#161616" stroke="#161616" stroke-width="1.0" stroke-linejoin="round" textLength="7.30" lengthAdjust="spacingAndGlyphs">.6</text>
<text x="388.80" y="417.60" font-size="12.4" font-weight="700" text-anchor="start" fill="#161616" stroke="#161616" stroke-width="1.0" stroke-linejoin="round" textLength="7.00" lengthAdjust="spacingAndGlyphs">.7</text>
<text x="407.50" y="417.60" font-size="12.4" font-weight="700" text-anchor="start" fill="#161616" stroke="#161616" stroke-width="1.0" stroke-linejoin="round" textLength="9.60" lengthAdjust="spacingAndGlyphs">3L</text>
<text x="426.13" y="417.60" font-size="12.4" font-weight="700" text-anchor="start" fill="#161616" stroke="#161616" stroke-width="1.0" stroke-linejoin="round" textLength="7.20" lengthAdjust="spacingAndGlyphs">.0</text>
<text x="446.74" y="417.60" font-size="12.4" font-weight="700" text-anchor="start" fill="#161616" stroke="#161616" stroke-width="1.0" stroke-linejoin="round" textLength="7.20" lengthAdjust="spacingAndGlyphs">.1</text>
<text x="467.35" y="417.60" font-size="12.4" font-weight="700" text-anchor="start" fill="#161616" stroke="#161616" stroke-width="1.0" stroke-linejoin="round" textLength="7.20" lengthAdjust="spacingAndGlyphs">.2</text>
<text x="487.96" y="417.60" font-size="12.4" font-weight="700" text-anchor="start" fill="#161616" stroke="#161616" stroke-width="1.0" stroke-linejoin="round" textLength="7.20" lengthAdjust="spacingAndGlyphs">.3</text>
<text x="195.00" y="408.00" font-size="12.4" font-weight="700" text-anchor="start" fill="#161616" stroke="#161616" stroke-width="1.0" stroke-linejoin="round" textLength="18.80" lengthAdjust="spacingAndGlyphs">DQa</text>
<text x="418.80" y="408.00" font-size="12.4" font-weight="700" text-anchor="start" fill="#161616" stroke="#161616" stroke-width="1.0" stroke-linejoin="round" textLength="20.00" lengthAdjust="spacingAndGlyphs">DQb</text>
<rect x="486.50" y="420.00" width="12.70" height="3.00" rx="0" stroke="#161616" stroke-width="1.0" fill="#888"/>
<text x="522.70" y="405.30" font-size="12.6" font-weight="700" text-anchor="start" fill="#161616" stroke="#161616" stroke-width="1.0" stroke-linejoin="round" textLength="29.70" lengthAdjust="spacingAndGlyphs">24VDC</text>
<line x1="553.30" y1="399.30" x2="563.80" y2="399.30" stroke="#161616" stroke-width="1.5" stroke-linecap="butt"/>
<path d="M556.5 396 H560.6 V400.8 H564 L558.5 406 L553 400.8 H556.5 Z" stroke="#161616" stroke-width="0.4" fill="#161616" stroke-linejoin="round" stroke-linecap="butt"/>
<path d="M528.2 417.3 V406.4 H563.4 V417.3" stroke="#161616" stroke-width="1.7" fill="none" stroke-linejoin="miter" stroke-linecap="butt"/>
<text x="532.00" y="417.20" font-size="12.4" font-weight="700" text-anchor="start" fill="#161616" stroke="#161616" stroke-width="1.0" stroke-linejoin="round" textLength="9.00" lengthAdjust="spacingAndGlyphs">L+</text>
<text x="554.00" y="417.20" font-size="12.4" font-weight="700" text-anchor="start" fill="#161616" stroke="#161616" stroke-width="1.0" stroke-linejoin="round" textLength="6.40" lengthAdjust="spacingAndGlyphs">M</text>
<rect x="170.00" y="421.00" width="171.70" height="77.20" rx="0" stroke="#161616" stroke-width="1.5" fill="#fff"/>
<line x1="170.00" y1="423.20" x2="341.70" y2="423.20" stroke="#161616" stroke-width="2.0" stroke-linecap="butt"/>
<line x1="170.00" y1="432.70" x2="341.70" y2="432.70" stroke="#161616" stroke-width="2.4" stroke-linecap="butt"/>
<line x1="170.00" y1="485.00" x2="341.70" y2="485.00" stroke="#161616" stroke-width="1.7" stroke-linecap="butt"/>
<line x1="170.00" y1="489.00" x2="341.70" y2="489.00" stroke="#161616" stroke-width="2.3" stroke-linecap="butt"/>
<line x1="170.00" y1="497.90" x2="341.70" y2="497.90" stroke="#161616" stroke-width="1.9" stroke-linecap="butt"/>
<line x1="170.00" y1="421.00" x2="170.00" y2="498.00" stroke="#161616" stroke-width="2.0" stroke-linecap="butt"/>
<line x1="343.60" y1="421.00" x2="343.60" y2="494.00" stroke="#161616" stroke-width="1.0" stroke-linecap="butt"/>
<line x1="341.70" y1="421.00" x2="355.60" y2="421.00" stroke="#161616" stroke-width="1.4" stroke-linecap="butt"/>
<line x1="342.00" y1="490.70" x2="355.60" y2="490.70" stroke="#161616" stroke-width="2.4" stroke-linecap="butt"/>
<line x1="342.00" y1="493.90" x2="355.60" y2="493.90" stroke="#161616" stroke-width="2.0" stroke-linecap="butt"/>
<rect x="355.60" y="421.00" width="212.20" height="75.00" rx="0" stroke="#161616" stroke-width="1.6" fill="#fff"/>
<line x1="355.60" y1="421.00" x2="355.60" y2="496.00" stroke="#161616" stroke-width="2.4" stroke-linecap="butt"/>
<line x1="341.70" y1="421.00" x2="341.70" y2="498.00" stroke="#161616" stroke-width="2.0" stroke-linecap="butt"/>
<line x1="355.60" y1="426.00" x2="567.80" y2="426.00" stroke="#161616" stroke-width="1.6" stroke-linecap="butt"/>
<line x1="355.60" y1="432.70" x2="567.80" y2="432.70" stroke="#161616" stroke-width="2.0" stroke-linecap="butt"/>
<line x1="355.60" y1="483.10" x2="567.80" y2="483.10" stroke="#161616" stroke-width="1.6" stroke-linecap="butt"/>
<line x1="355.60" y1="486.90" x2="567.80" y2="486.90" stroke="#161616" stroke-width="1.8" stroke-linecap="butt"/>
<line x1="355.60" y1="492.20" x2="567.80" y2="492.20" stroke="#161616" stroke-width="3.0" stroke-linecap="butt"/>
<line x1="355.60" y1="496.30" x2="567.80" y2="496.30" stroke="#161616" stroke-width="1.9" stroke-linecap="butt"/>
<line x1="159.00" y1="421.00" x2="170.00" y2="421.00" stroke="#161616" stroke-width="1.4" stroke-linecap="butt"/>
<line x1="159.00" y1="490.00" x2="170.00" y2="490.00" stroke="#161616" stroke-width="2.0" stroke-linecap="butt"/>
<line x1="159.00" y1="492.80" x2="170.00" y2="492.80" stroke="#161616" stroke-width="1.4" stroke-linecap="butt"/>
<circle cx="183.75" cy="457.30" r="9.00" stroke="#161616" stroke-width="1.9" fill="#fff"/>
<line x1="176.48" y1="462.09" x2="188.54" y2="450.03" stroke="#161616" stroke-width="1.5" stroke-linecap="butt"/>
<line x1="178.96" y1="464.57" x2="191.02" y2="452.51" stroke="#161616" stroke-width="1.5" stroke-linecap="butt"/>
<circle cx="204.36" cy="457.30" r="9.00" stroke="#161616" stroke-width="1.9" fill="#fff"/>
<line x1="197.09" y1="462.09" x2="209.15" y2="450.03" stroke="#161616" stroke-width="1.5" stroke-linecap="butt"/>
<line x1="199.57" y1="464.57" x2="211.63" y2="452.51" stroke="#161616" stroke-width="1.5" stroke-linecap="butt"/>
<circle cx="224.97" cy="457.30" r="9.00" stroke="#161616" stroke-width="1.9" fill="#fff"/>
<line x1="217.70" y1="462.09" x2="229.76" y2="450.03" stroke="#161616" stroke-width="1.5" stroke-linecap="butt"/>
<line x1="220.18" y1="464.57" x2="232.24" y2="452.51" stroke="#161616" stroke-width="1.5" stroke-linecap="butt"/>
<circle cx="245.58" cy="457.30" r="9.00" stroke="#161616" stroke-width="1.9" fill="#fff"/>
<line x1="238.31" y1="462.09" x2="250.37" y2="450.03" stroke="#161616" stroke-width="1.5" stroke-linecap="butt"/>
<line x1="240.79" y1="464.57" x2="252.85" y2="452.51" stroke="#161616" stroke-width="1.5" stroke-linecap="butt"/>
<circle cx="266.19" cy="457.30" r="9.00" stroke="#161616" stroke-width="1.9" fill="#fff"/>
<line x1="258.92" y1="462.09" x2="270.98" y2="450.03" stroke="#161616" stroke-width="1.5" stroke-linecap="butt"/>
<line x1="261.40" y1="464.57" x2="273.46" y2="452.51" stroke="#161616" stroke-width="1.5" stroke-linecap="butt"/>
<circle cx="286.80" cy="457.30" r="9.00" stroke="#161616" stroke-width="1.9" fill="#fff"/>
<line x1="279.53" y1="462.09" x2="291.59" y2="450.03" stroke="#161616" stroke-width="1.5" stroke-linecap="butt"/>
<line x1="282.01" y1="464.57" x2="294.07" y2="452.51" stroke="#161616" stroke-width="1.5" stroke-linecap="butt"/>
<circle cx="307.41" cy="457.30" r="9.00" stroke="#161616" stroke-width="1.9" fill="#fff"/>
<line x1="300.14" y1="462.09" x2="312.20" y2="450.03" stroke="#161616" stroke-width="1.5" stroke-linecap="butt"/>
<line x1="302.62" y1="464.57" x2="314.68" y2="452.51" stroke="#161616" stroke-width="1.5" stroke-linecap="butt"/>
<circle cx="328.02" cy="457.30" r="9.00" stroke="#161616" stroke-width="1.9" fill="#fff"/>
<line x1="320.75" y1="462.09" x2="332.81" y2="450.03" stroke="#161616" stroke-width="1.5" stroke-linecap="butt"/>
<line x1="323.23" y1="464.57" x2="335.29" y2="452.51" stroke="#161616" stroke-width="1.5" stroke-linecap="butt"/>
<circle cx="372.20" cy="456.00" r="9.00" stroke="#161616" stroke-width="1.9" fill="#fff"/>
<line x1="364.93" y1="460.79" x2="376.99" y2="448.73" stroke="#161616" stroke-width="1.5" stroke-linecap="butt"/>
<line x1="367.41" y1="463.27" x2="379.47" y2="451.21" stroke="#161616" stroke-width="1.5" stroke-linecap="butt"/>
<circle cx="392.81" cy="456.00" r="9.00" stroke="#161616" stroke-width="1.9" fill="#fff"/>
<line x1="385.54" y1="460.79" x2="397.60" y2="448.73" stroke="#161616" stroke-width="1.5" stroke-linecap="butt"/>
<line x1="388.02" y1="463.27" x2="400.08" y2="451.21" stroke="#161616" stroke-width="1.5" stroke-linecap="butt"/>
<circle cx="413.42" cy="456.00" r="9.00" stroke="#161616" stroke-width="1.9" fill="#fff"/>
<line x1="406.15" y1="460.79" x2="418.21" y2="448.73" stroke="#161616" stroke-width="1.5" stroke-linecap="butt"/>
<line x1="408.63" y1="463.27" x2="420.69" y2="451.21" stroke="#161616" stroke-width="1.5" stroke-linecap="butt"/>
<circle cx="434.03" cy="456.00" r="9.00" stroke="#161616" stroke-width="1.9" fill="#fff"/>
<line x1="426.76" y1="460.79" x2="438.82" y2="448.73" stroke="#161616" stroke-width="1.5" stroke-linecap="butt"/>
<line x1="429.24" y1="463.27" x2="441.30" y2="451.21" stroke="#161616" stroke-width="1.5" stroke-linecap="butt"/>
<circle cx="454.64" cy="456.00" r="9.00" stroke="#161616" stroke-width="1.9" fill="#fff"/>
<line x1="447.37" y1="460.79" x2="459.43" y2="448.73" stroke="#161616" stroke-width="1.5" stroke-linecap="butt"/>
<line x1="449.85" y1="463.27" x2="461.91" y2="451.21" stroke="#161616" stroke-width="1.5" stroke-linecap="butt"/>
<circle cx="475.25" cy="456.00" r="9.00" stroke="#161616" stroke-width="1.9" fill="#fff"/>
<line x1="467.98" y1="460.79" x2="480.04" y2="448.73" stroke="#161616" stroke-width="1.5" stroke-linecap="butt"/>
<line x1="470.46" y1="463.27" x2="482.52" y2="451.21" stroke="#161616" stroke-width="1.5" stroke-linecap="butt"/>
<circle cx="495.86" cy="456.00" r="9.00" stroke="#161616" stroke-width="1.9" fill="#fff"/>
<line x1="488.59" y1="460.79" x2="500.65" y2="448.73" stroke="#161616" stroke-width="1.5" stroke-linecap="butt"/>
<line x1="491.07" y1="463.27" x2="503.13" y2="451.21" stroke="#161616" stroke-width="1.5" stroke-linecap="butt"/>
<circle cx="516.47" cy="456.00" r="9.00" stroke="#161616" stroke-width="1.9" fill="#fff"/>
<line x1="509.20" y1="460.79" x2="521.26" y2="448.73" stroke="#161616" stroke-width="1.5" stroke-linecap="butt"/>
<line x1="511.68" y1="463.27" x2="523.74" y2="451.21" stroke="#161616" stroke-width="1.5" stroke-linecap="butt"/>
<circle cx="537.08" cy="456.00" r="9.00" stroke="#161616" stroke-width="1.9" fill="#fff"/>
<line x1="529.81" y1="460.79" x2="541.87" y2="448.73" stroke="#161616" stroke-width="1.5" stroke-linecap="butt"/>
<line x1="532.29" y1="463.27" x2="544.35" y2="451.21" stroke="#161616" stroke-width="1.5" stroke-linecap="butt"/>
<circle cx="557.69" cy="456.00" r="9.00" stroke="#161616" stroke-width="1.9" fill="#fff"/>
<line x1="550.42" y1="460.79" x2="562.48" y2="448.73" stroke="#161616" stroke-width="1.5" stroke-linecap="butt"/>
<line x1="552.90" y1="463.27" x2="564.96" y2="451.21" stroke="#161616" stroke-width="1.5" stroke-linecap="butt"/>
<line x1="183.75" y1="498.00" x2="183.75" y2="614.50" stroke="#161616" stroke-width="1.5" stroke-linecap="butt"/>
<line x1="204.36" y1="498.00" x2="204.36" y2="614.50" stroke="#161616" stroke-width="1.5" stroke-linecap="butt"/>
<line x1="224.97" y1="498.00" x2="224.97" y2="614.50" stroke="#161616" stroke-width="1.5" stroke-linecap="butt"/>
<line x1="245.58" y1="498.00" x2="245.58" y2="614.50" stroke="#161616" stroke-width="1.5" stroke-linecap="butt"/>
<line x1="266.19" y1="498.00" x2="266.19" y2="614.50" stroke="#161616" stroke-width="1.5" stroke-linecap="butt"/>
<line x1="183.10" y1="614.50" x2="266.84" y2="614.50" stroke="#161616" stroke-width="1.6" stroke-linecap="butt"/>
<circle cx="183.75" cy="565.00" r="9.50" stroke="#161616" stroke-width="2.0" fill="#fff"/>
<line x1="176.15" y1="560.20" x2="191.35" y2="560.20" stroke="#161616" stroke-width="1.5" stroke-linecap="butt"/>
<path d="M177.75 567 C179.25 562 182.25 562 183.75 566.5 S188.25 571 189.75 565.5" stroke="#161616" stroke-width="1.5" fill="none" stroke-linejoin="round" stroke-linecap="butt"/>
<rect x="198.86" y="536.20" width="11.00" height="51.30" rx="0" stroke="#161616" stroke-width="1.75" fill="#fff"/>
<rect x="219.47" y="536.20" width="11.00" height="51.30" rx="0" stroke="#161616" stroke-width="1.75" fill="#fff"/>
<rect x="240.08" y="536.20" width="11.00" height="51.30" rx="0" stroke="#161616" stroke-width="1.75" fill="#fff"/>
<rect x="260.69" y="536.20" width="11.00" height="51.30" rx="0" stroke="#161616" stroke-width="1.75" fill="#fff"/>
<line x1="286.80" y1="497.00" x2="286.80" y2="614.90" stroke="#161616" stroke-width="1.5" stroke-linecap="butt"/>
<line x1="307.41" y1="497.00" x2="307.41" y2="614.90" stroke="#161616" stroke-width="1.5" stroke-linecap="butt"/>
<line x1="328.02" y1="497.00" x2="328.02" y2="614.90" stroke="#161616" stroke-width="1.5" stroke-linecap="butt"/>
<line x1="372.20" y1="497.00" x2="372.20" y2="614.90" stroke="#161616" stroke-width="1.5" stroke-linecap="butt"/>
<line x1="392.81" y1="497.00" x2="392.81" y2="614.90" stroke="#161616" stroke-width="1.5" stroke-linecap="butt"/>
<line x1="286.15" y1="614.90" x2="393.46" y2="614.90" stroke="#161616" stroke-width="1.6" stroke-linecap="butt"/>
<circle cx="286.80" cy="565.00" r="9.50" stroke="#161616" stroke-width="2.0" fill="#fff"/>
<line x1="279.20" y1="560.20" x2="294.40" y2="560.20" stroke="#161616" stroke-width="1.5" stroke-linecap="butt"/>
<path d="M280.80 567 C282.30 562 285.30 562 286.80 566.5 S291.30 571 292.80 565.5" stroke="#161616" stroke-width="1.5" fill="none" stroke-linejoin="round" stroke-linecap="butt"/>
<rect x="301.91" y="536.20" width="11.00" height="51.30" rx="0" stroke="#161616" stroke-width="1.75" fill="#fff"/>
<rect x="322.52" y="536.20" width="11.00" height="51.30" rx="0" stroke="#161616" stroke-width="1.75" fill="#fff"/>
<rect x="366.70" y="538.60" width="11.00" height="48.90" rx="0" stroke="#161616" stroke-width="1.75" fill="#fff"/>
<rect x="387.31" y="538.60" width="11.00" height="48.90" rx="0" stroke="#161616" stroke-width="1.75" fill="#fff"/>
<line x1="413.42" y1="496.50" x2="413.42" y2="614.50" stroke="#161616" stroke-width="1.5" stroke-linecap="butt"/>
<line x1="434.03" y1="496.50" x2="434.03" y2="614.50" stroke="#161616" stroke-width="1.5" stroke-linecap="butt"/>
<line x1="454.64" y1="496.50" x2="454.64" y2="614.50" stroke="#161616" stroke-width="1.5" stroke-linecap="butt"/>
<line x1="475.25" y1="496.50" x2="475.25" y2="614.50" stroke="#161616" stroke-width="1.5" stroke-linecap="butt"/>
<line x1="495.86" y1="496.50" x2="495.86" y2="614.50" stroke="#161616" stroke-width="1.5" stroke-linecap="butt"/>
<line x1="412.77" y1="614.50" x2="496.51" y2="614.50" stroke="#161616" stroke-width="1.6" stroke-linecap="butt"/>
<circle cx="413.42" cy="565.00" r="9.50" stroke="#161616" stroke-width="2.0" fill="#fff"/>
<line x1="405.82" y1="560.20" x2="421.02" y2="560.20" stroke="#161616" stroke-width="1.5" stroke-linecap="butt"/>
<path d="M407.42 567 C408.92 562 411.92 562 413.42 566.5 S417.92 571 419.42 565.5" stroke="#161616" stroke-width="1.5" fill="none" stroke-linejoin="round" stroke-linecap="butt"/>
<rect x="428.53" y="536.20" width="11.00" height="51.30" rx="0" stroke="#161616" stroke-width="1.75" fill="#fff"/>
<rect x="449.14" y="536.20" width="11.00" height="51.30" rx="0" stroke="#161616" stroke-width="1.75" fill="#fff"/>
<rect x="469.75" y="536.20" width="11.00" height="51.30" rx="0" stroke="#161616" stroke-width="1.75" fill="#fff"/>
<rect x="490.36" y="536.20" width="11.00" height="51.30" rx="0" stroke="#161616" stroke-width="1.75" fill="#fff"/>
<text x="157.00" y="530.60" font-size="15.6" font-weight="400" text-anchor="start" fill="#161616" stroke="#161616" stroke-width="0.8" stroke-linejoin="round" textLength="20.80" lengthAdjust="spacingAndGlyphs">L(+)</text>
<text x="156.60" y="610.80" font-size="15.6" font-weight="400" text-anchor="start" fill="#161616" stroke="#161616" stroke-width="0.8" stroke-linejoin="round" textLength="21.60" lengthAdjust="spacingAndGlyphs">N(−)</text>
<text x="265.20" y="530.60" font-size="15.6" font-weight="400" text-anchor="start" fill="#161616" stroke="#161616" stroke-width="0.8" stroke-linejoin="round" textLength="20.80" lengthAdjust="spacingAndGlyphs">L(+)</text>
<text x="266.20" y="610.80" font-size="15.6" font-weight="400" text-anchor="start" fill="#161616" stroke="#161616" stroke-width="0.8" stroke-linejoin="round" textLength="21.60" lengthAdjust="spacingAndGlyphs">N(−)</text>
<text x="392.20" y="530.60" font-size="15.6" font-weight="400" text-anchor="start" fill="#161616" stroke="#161616" stroke-width="0.8" stroke-linejoin="round" textLength="20.80" lengthAdjust="spacingAndGlyphs">L(+)</text>
<text x="392.60" y="610.80" font-size="15.6" font-weight="400" text-anchor="start" fill="#161616" stroke="#161616" stroke-width="0.8" stroke-linejoin="round" textLength="21.60" lengthAdjust="spacingAndGlyphs">N(−)</text>
<line x1="535.60" y1="496.50" x2="535.60" y2="606.00" stroke="#161616" stroke-width="1.5" stroke-linecap="butt"/>
<line x1="557.20" y1="496.50" x2="557.20" y2="606.00" stroke="#161616" stroke-width="1.5" stroke-linecap="butt"/>
<g>
<ellipse cx="495.5" cy="592" rx="8" ry="7.5" fill="#fff" opacity="0.92"/>
<ellipse cx="502" cy="599.5" rx="6.5" ry="5.5" fill="#fff" opacity="0.92"/>
<ellipse cx="495.5" cy="592" rx="8" ry="7.5" fill="none" stroke="#bdbdbd" stroke-width="0.9" stroke-dasharray="1.2 1.6"/>
<ellipse cx="502" cy="599.5" rx="6.5" ry="5.5" fill="none" stroke="#c4c4c4" stroke-width="0.9" stroke-dasharray="1.2 1.8"/>
<rect x="513" y="587.5" width="62" height="16.5" fill="#fff" opacity="0.9"/>
<path d="M531 589.8 H544 M531.4 589.8 Q531.6 598 529 603.4 M531.5 594.4 H545.2 M534.3 597.6 H543 V603.6 H534.3 Z" stroke="#2e2e2e" stroke-width="1.2" fill="none" stroke-linejoin="round" stroke-linecap="butt"/>
<path d="M551 591.4 H563.4 L561.8 594 M551.2 591.4 Q551.4 598.5 549.4 603.6 M557 587.8 V596 M553 596.2 H561.4 Q558.5 601.5 551.8 604 M554.6 597.8 Q557.5 602 563.6 604" stroke="#2e2e2e" stroke-width="1.2" fill="none" stroke-linejoin="round" stroke-linecap="butt"/>
<path d="M519.5 590 v3 M517 598 h2 M523.5 594.5 v2.5 M569 597 h1.6 M573 601 h1.5 M578 599.5 h1.5 M583.5 596 v2" stroke="#b5b5b5" stroke-width="1.0" fill="none" stroke-linejoin="round" stroke-linecap="butt"/>
</g>
<path d="M527.80 605.6 H543.80 L535.80 618.4 Z" stroke="#161616" stroke-width="1.9" fill="#fff" stroke-linejoin="miter" stroke-linecap="butt"/>
<path d="M549.20 605.6 H565.20 L557.20 618.4 Z" stroke="#161616" stroke-width="1.9" fill="#fff" stroke-linejoin="miter" stroke-linecap="butt"/>
</svg>
</body></html>
